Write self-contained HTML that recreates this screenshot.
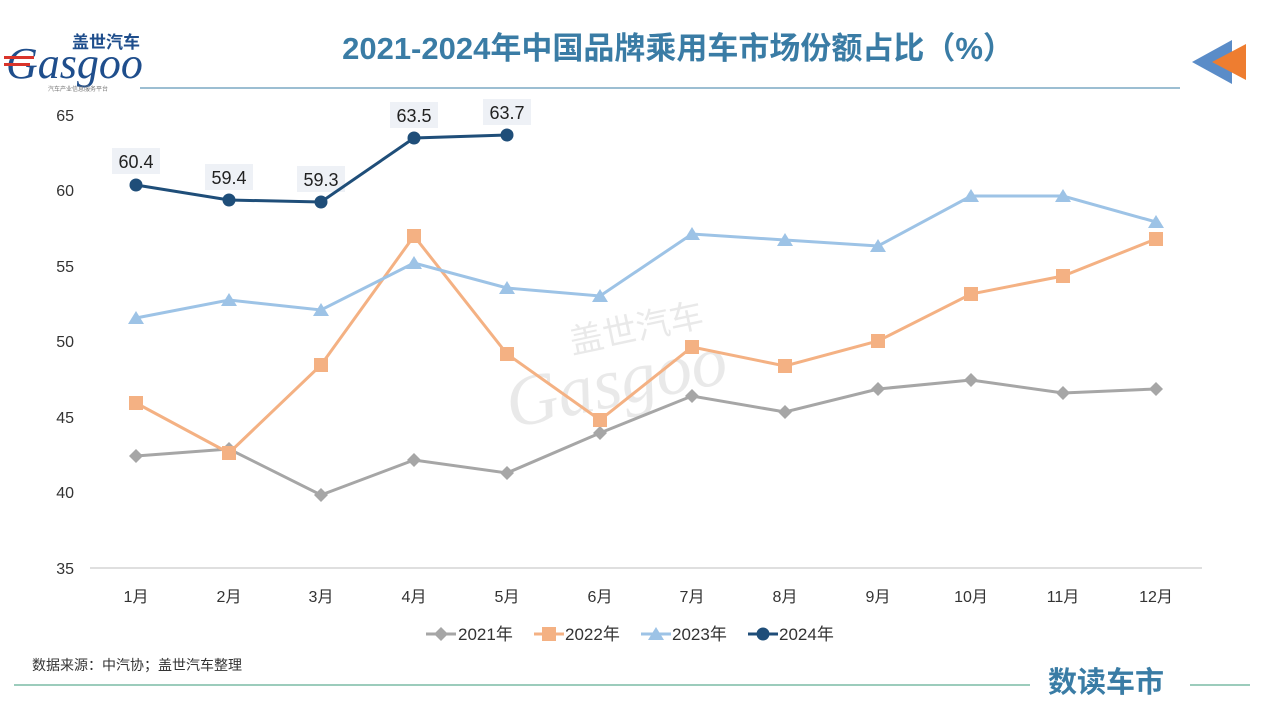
<!DOCTYPE html>
<html><head><meta charset="utf-8"><style>
body{margin:0;width:1280px;height:720px;background:#fff;overflow:hidden;font-family:"Liberation Sans","Noto Sans CJK SC",sans-serif}
</style></head><body>
<svg width="1280" height="720" xmlns="http://www.w3.org/2000/svg" font-family="Liberation Sans, Noto Sans CJK SC, sans-serif">
<!-- header -->
<text x="72" y="48" font-size="17" font-weight="bold" fill="#1f4e8c">盖世汽车</text>
<text x="6" y="78" font-size="44" font-style="italic" font-family="Liberation Serif, serif" fill="#1f4e8c">Gasgoo</text>
<rect x="4" y="56" width="30" height="3" fill="#d9342b"/><rect x="4" y="63" width="26" height="3" fill="#d9342b"/>
<text x="48" y="91" font-size="6" fill="#777">汽车产业信息服务平台</text>
<line x1="140" y1="88" x2="1180" y2="88" stroke="#3a7ca5" stroke-width="1"/>
<text x="678" y="59" font-size="31" font-weight="bold" fill="#3a7ca5" text-anchor="middle">2021-2024年中国品牌乘用车市场份额占比（%）</text>
<polygon points="1192,62 1232,40 1232,84" fill="#5a8cc8"/>
<polygon points="1212,62 1246,44 1246,80" fill="#ee7d30"/>
<!-- watermark -->
<g opacity="0.12" fill="#555"><text x="575" y="340" font-size="34" transform="rotate(-12 640 360)">盖世汽车</text><text x="500" y="400" font-size="72" font-style="italic" font-family="Liberation Serif, serif" transform="rotate(-12 640 360)">Gasgoo</text></g>
<!-- axes -->
<line x1="90" y1="568" x2="1202" y2="568" stroke="#bfbfbf"/>
<g font-size="16" fill="#333" text-anchor="end">
<text x="74" y="121">65</text><text x="74" y="196">60</text><text x="74" y="272">55</text><text x="74" y="347">50</text><text x="74" y="423">45</text><text x="74" y="498">40</text><text x="74" y="574">35</text>
</g>
<g font-size="16" fill="#333" text-anchor="middle">
<text x="136" y="602">1月</text><text x="229" y="602">2月</text><text x="321" y="602">3月</text><text x="414" y="602">4月</text><text x="507" y="602">5月</text><text x="600" y="602">6月</text><text x="692" y="602">7月</text><text x="785" y="602">8月</text><text x="878" y="602">9月</text><text x="971" y="602">10月</text><text x="1063" y="602">11月</text><text x="1156" y="602">12月</text>
</g>
<!-- 2021 -->
<polyline fill="none" stroke="#a6a6a6" stroke-width="3" points="136,456 229,449 321,495 414,460 507,473 600,433 692,396 785,412 878,389 971,380 1063,393 1156,389"/>
<g fill="#a6a6a6">
<polygon points="136,449 143,456 136,463 129,456"/><polygon points="229,442 236,449 229,456 222,449"/><polygon points="321,488 328,495 321,502 314,495"/><polygon points="414,453 421,460 414,467 407,460"/><polygon points="507,466 514,473 507,480 500,473"/><polygon points="600,426 607,433 600,440 593,433"/><polygon points="692,389 699,396 692,403 685,396"/><polygon points="785,405 792,412 785,419 778,412"/><polygon points="878,382 885,389 878,396 871,389"/><polygon points="971,373 978,380 971,387 964,380"/><polygon points="1063,386 1070,393 1063,400 1056,393"/><polygon points="1156,382 1163,389 1156,396 1149,389"/>
</g>
<!-- 2022 -->
<polyline fill="none" stroke="#f4b183" stroke-width="3" points="136,403 229,453 321,365 414,236 507,354 600,420 692,347 785,366 878,341 971,294 1063,276 1156,239"/>
<g fill="#f4b183">
<rect x="129" y="396" width="14" height="14"/><rect x="222" y="446" width="14" height="14"/><rect x="314" y="358" width="14" height="14"/><rect x="407" y="229" width="14" height="14"/><rect x="500" y="347" width="14" height="14"/><rect x="593" y="413" width="14" height="14"/><rect x="685" y="340" width="14" height="14"/><rect x="778" y="359" width="14" height="14"/><rect x="871" y="334" width="14" height="14"/><rect x="964" y="287" width="14" height="14"/><rect x="1056" y="269" width="14" height="14"/><rect x="1149" y="232" width="14" height="14"/>
</g>
<!-- 2023 -->
<polyline fill="none" stroke="#9dc3e6" stroke-width="3" points="136,318 229,300 321,310 414,263 507,288 600,296 692,234 785,240 878,246 971,196 1063,196 1156,222"/>
<g fill="#9dc3e6">
<polygon points="136,311 144,324 128,324"/><polygon points="229,293 237,306 221,306"/><polygon points="321,303 329,316 313,316"/><polygon points="414,256 422,269 406,269"/><polygon points="507,281 515,294 499,294"/><polygon points="600,289 608,302 592,302"/><polygon points="692,227 700,240 684,240"/><polygon points="785,233 793,246 777,246"/><polygon points="878,239 886,252 870,252"/><polygon points="971,189 979,202 963,202"/><polygon points="1063,189 1071,202 1055,202"/><polygon points="1156,215 1164,228 1148,228"/>
</g>
<!-- 2024 -->
<g fill="#eef1f6"><rect x="112" y="148" width="48" height="26"/><rect x="205" y="164" width="48" height="26"/><rect x="297" y="166" width="48" height="26"/><rect x="390" y="102" width="48" height="26"/><rect x="483" y="99" width="48" height="26"/></g>
<polyline fill="none" stroke="#1f4e79" stroke-width="3" points="136,185 229,200 321,202 414,138 507,135"/>
<g fill="#1f4e79"><circle cx="136" cy="185" r="6.5"/><circle cx="229" cy="200" r="6.5"/><circle cx="321" cy="202" r="6.5"/><circle cx="414" cy="138" r="6.5"/><circle cx="507" cy="135" r="6.5"/></g>
<g font-size="18" fill="#222" text-anchor="middle"><text x="136" y="168">60.4</text><text x="229" y="184">59.4</text><text x="321" y="186">59.3</text><text x="414" y="122">63.5</text><text x="507" y="119">63.7</text></g>
<!-- legend -->
<g font-size="17" fill="#333">
<line x1="426" y1="634" x2="456" y2="634" stroke="#a6a6a6" stroke-width="3"/><polygon points="441,627 448,634 441,641 434,634" fill="#a6a6a6"/><text x="458" y="640">2021年</text>
<line x1="534" y1="634" x2="564" y2="634" stroke="#f4b183" stroke-width="3"/><rect x="542" y="627" width="14" height="14" fill="#f4b183"/><text x="565" y="640">2022年</text>
<line x1="641" y1="634" x2="671" y2="634" stroke="#9dc3e6" stroke-width="3"/><polygon points="656,627 664,640 648,640" fill="#9dc3e6"/><text x="672" y="640">2023年</text>
<line x1="748" y1="634" x2="778" y2="634" stroke="#1f4e79" stroke-width="3"/><circle cx="763" cy="634" r="6.5" fill="#1f4e79"/><text x="779" y="640">2024年</text>
</g>
<!-- footer -->
<text x="32" y="670" font-size="14" fill="#333">数据来源：中汽协；盖世汽车整理</text>
<line x1="14" y1="685" x2="1030" y2="685" stroke="#3a9a7a" stroke-width="1"/>
<line x1="1190" y1="685" x2="1250" y2="685" stroke="#3a9a7a" stroke-width="1"/>
<text x="1048" y="692" font-size="29" font-weight="bold" fill="#3a7ca5">数读车市</text>
</svg>
</body></html>
